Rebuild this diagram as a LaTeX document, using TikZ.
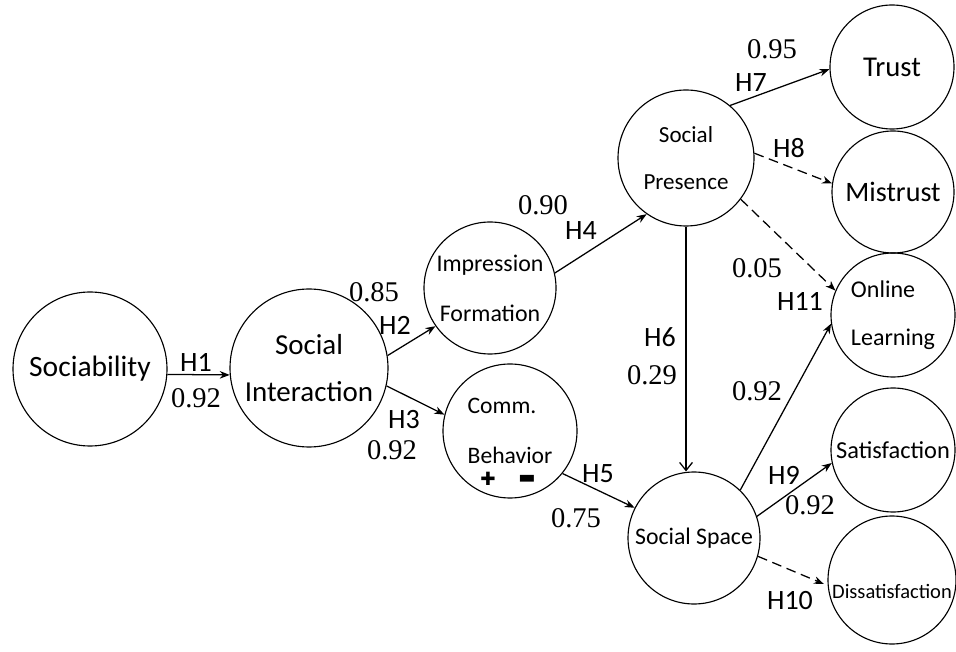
\documentclass[tikz,border=0pt]{standalone}
\usepackage{fontspec}
\setmainfont{Carlito}
\newfontfamily\numfont{Liberation Serif}
\newfontfamily\symfont{DejaVu Sans}
\usepackage{tikz}
\usetikzlibrary{arrows.meta}
\tikzset{>={Stealth[length=2.5mm, width=1.9mm]}}
\tikzset{
    var/.style={draw, circle, line width=0.8pt, inner sep=0pt, align=center},
    hyp/.style={inner sep=0.5pt, font=\fontsize{19.9}{24}\selectfont},
    coef/.style={inner sep=0.5pt, font=\numfont\fontsize{20.3}{24}\selectfont},
    link/.style={->, line width=0.9pt},
    weaklink/.style={->, line width=0.9pt, dash pattern=on 7pt off 4pt}
}

\begin{document}
\begin{tikzpicture}
                \useasboundingbox (0,0) rectangle (23.9,16.275);

                \node[var, minimum size=3.85cm, font=\fontsize{21}{34}\selectfont] (soc) at (2.25,7.05) {Sociability};
                \node[var, minimum size=3.95cm, font=\fontsize{20.6}{34}\selectfont] (inter) at (7.725,7.075) {Social\\Interaction};
                \node[var, minimum size=3.3cm, font=\fontsize{17}{35.5}\selectfont] (impr) at (12.25,9.075) {Impression\\Formation};
                \node[var, minimum size=3.35cm, font=\fontsize{16.8}{35}\selectfont, align=left] (comm) at (12.75,5.5) {Comm.\\Behavior};
                \node[var, minimum size=3.4cm, font=\fontsize{16.4}{34}\selectfont] (pres) at (17.15,12.325) {Social\\Presence};
                \node[var, minimum size=3.3cm, font=\fontsize{16.9}{34}\selectfont] (space) at (17.35,2.825) {Social Space};

                \node[var, minimum size=3.1cm, font=\fontsize{20.4}{34}\selectfont] (trust) at (22.3,14.6) {Trust};
                \node[var, minimum size=3.05cm, font=\fontsize{20}{34}\selectfont] (mis) at (22.325,11.475) {Mistrust};
                \node[var, minimum size=3.1cm, font=\fontsize{17.1}{34}\selectfont, align=left] (online) at (22.325,8.4) {Online\\Learning};
                \node[var, minimum size=3.1cm, font=\fontsize{17.35}{34}\selectfont] (satis) at (22.325,5.025) {Satisfaction};
                \node[var, minimum size=3.2cm, font=\fontsize{14.6}{34}\selectfont] (dis) at (22.3,1.775) {\raisebox{-8pt}[\height][\depth]{Dissatisfaction}};

                \node[font=\symfont\fontsize{13}{13}\selectfont] (plus) at (12.2,4.3) {✚}; % signs
                \node[font=\symfont\fontsize{13}{13}\selectfont] (minus) at (13.175,4.3) {▬};

                \draw[link] (soc.-4.5) -- (inter.185);
                \draw[link] (inter.9.5) -- (impr.215);
                \draw[link] (inter.-13.5) -- (comm.166.6);
                \draw[link] (impr.13.4) -- (pres.235.5);
                \draw[link] (comm.-39) -- (space.153.8);
                \draw[line width=0.9pt, -{Straight Barb[length=2mm, width=3.2mm]}] (pres.south) -- (pres.south |- space.north);

                \draw[link] (pres.50.6) -- (trust.182.6);
                \draw[weaklink] (pres.4.5) -- (mis.172.5);
                \draw[weaklink] (pres.-37) -- (online.157.6);
                \draw[link] (space.46.2) -- (online.188.6);
                \draw[link] (space.19.8) -- (satis.192.4);
                \draw[weaklink, shorten >=3pt] (space.-16.9) -- (dis.185.4);

                \node[hyp] (h1) at (4.9,7.225) {H1};
                \node[coef] (c1) at (4.9,6.325) {0.92};
                \node[coef] (c2) at (9.35,8.975) {0.85};
                \node[hyp] (h2) at (9.875,8.15) {H2};
                \node[hyp] (h3) at (10.1,5.78) {H3};
                \node[coef] (c3) at (9.8,5.02) {0.92};
                \node[coef] (c4) at (13.575,11.15) {0.90};
                \node[hyp] (h4) at (14.525,10.5) {H4};
                \node[hyp] (h5) at (14.95,4.425) {H5};
                \node[coef] (c5) at (14.4,3.325) {0.75};
                \node[hyp] (h6) at (16.5,7.85) {H6};
                \node[coef] (c6) at (16.3,6.9) {0.29};
                \node[coef] (c7) at (19.3,15.05) {0.95};
                \node[hyp] (h7) at (18.775,14.2) {H7};
                \node[hyp] (h8) at (19.725,12.575) {H8};
                \node[coef] (c11) at (18.925,9.575) {0.05};
                \node[hyp] (h11) at (20.0,8.75) {H11};
                \node[coef] (c12) at (18.925,6.5) {0.92};
                \node[hyp] (h9) at (19.6,4.4) {H9};
                \node[coef] (c9) at (20.25,3.65) {0.92};
                \node[hyp] (h10) at (19.75,1.25) {H10};
\end{tikzpicture}
\end{document}
